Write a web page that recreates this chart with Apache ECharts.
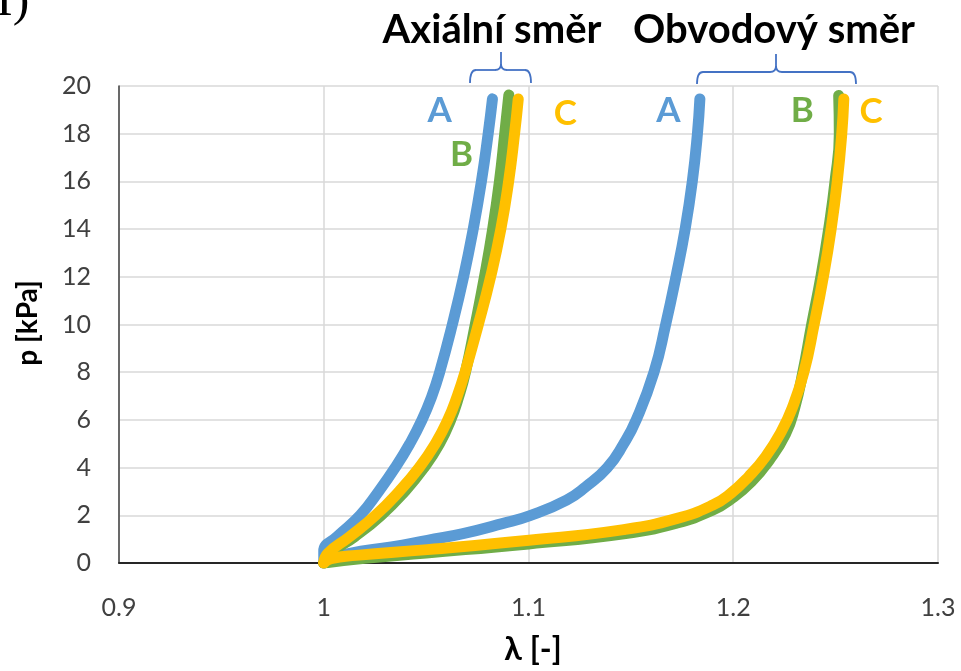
<!DOCTYPE html>
<html>
<head>
<meta charset="utf-8">
<script src="https://cdn.jsdelivr.net/npm/echarts@6/dist/echarts.min.js"></script>
<style>
  html, body { margin: 0; padding: 0; background: #fff; }
  #chart { width: 961px; height: 671px; }
</style>
</head>
<body>
<div id="chart"></div>
<script>
// Stretch λ [-] versus pressure p [kPa]; axial and circumferential direction, samples A, B, C
const axialA = [[1.000,0],[1.000,0.5],[1.0065,1.1],[1.0178,2],[1.0268,3],[1.0349,4],[1.0420,5],[1.0480,6],[1.0528,7],[1.0566,8],[1.0628,10],[1.0683,12],[1.0730,14],[1.0770,16],[1.0803,18],[1.0824,19.46]];
const axialB = [[1.000,0],[1.003,0.4],[1.015,1.1],[1.0280,2],[1.0395,3],[1.0490,4],[1.0565,5],[1.0620,6],[1.0660,7],[1.0692,8],[1.0740,10],[1.0785,12],[1.0825,14],[1.0858,16],[1.0884,18],[1.0904,19.62]];
const axialC = [[1.000,0],[1.002,0.4],[1.0126,1.1],[1.0253,2],[1.0368,3],[1.0466,4],[1.0545,5],[1.0606,6],[1.0652,7],[1.0690,8],[1.0755,10],[1.0815,12],[1.0865,14],[1.0903,16],[1.0932,18],[1.0950,19.46]];
const circA = [[1.000,0],[1.0122,0.39],[1.0331,0.67],[1.0506,0.95],[1.068,1.23],[1.0872,1.65],[1.1011,2],[1.1186,2.64],[1.128,3.2],[1.1385,4],[1.1465,5],[1.1526,6],[1.1613,8],[1.1670,10],[1.1720,12],[1.1765,14],[1.1800,16],[1.1825,18],[1.1837,19.46]];
const circB = [[1.000,0],[1.02,0.2],[1.05,0.42],[1.10,0.8],[1.1465,1.22],[1.1726,1.68],[1.19,2.22],[1.1995,2.72],[1.209,3.42],[1.2175,4.3],[1.2255,5.4],[1.2300,6.5],[1.2340,8],[1.2383,10],[1.2428,12],[1.2466,14],[1.2497,16],[1.2518,18],[1.2515,19.6]];
const circC = [[1.000,0],[1.0035,0.18],[1.0157,0.32],[1.0506,0.56],[1.1003,0.95],[1.1465,1.40],[1.1726,1.87],[1.19,2.43],[1.1988,2.92],[1.2075,3.62],[1.2158,4.46],[1.2234,5.5],[1.2288,6.5],[1.2345,8],[1.2395,10],[1.2440,12],[1.2478,14],[1.2508,16],[1.2530,18],[1.2540,19.46]];

// sample letters and where they sit (λ, p)
const sampleNames = ['A', 'B', 'C', 'A', 'B', 'C'];
const sampleAnchors = [[1.0566,18.95],[1.0673,17.1],[1.118,18.83],[1.1683,18.95],[1.2337,18.95],[1.2673,18.91]];
const groupTitles = ['Axiální směr', 'Obvodový směr'];
const xTicks = [0.9, 1.0, 1.1, 1.2, 1.3];
const yTicks = [0, 2, 4, 6, 8, 10, 12, 14, 16, 18, 20];

const BLUE = '#5b9bd5', GREEN = '#70ad47', ORANGE = '#ffc000';
const sampleColors = [BLUE, GREEN, ORANGE, BLUE, GREEN, ORANGE];
const FONT = 'Lato, "Open Sans", "DejaVu Sans", sans-serif';

const chart = echarts.init(document.getElementById('chart'), null, { renderer: 'canvas' });

function curve(data, color) {
  return {
    type: 'line', data: data, showSymbol: false, symbol: 'none', smooth: 0.5,
    lineStyle: { color: color, width: 11, cap: 'round', join: 'round' },
    animation: false, silent: true
  };
}

chart.setOption({
  animation: false,
  grid: { left: 119, right: 23, top: 86, bottom: 108, containLabel: false },
  xAxis: {
    type: 'value', min: xTicks[0], max: xTicks[xTicks.length - 1], interval: 0.1,
    axisLine: { show: true, onZero: false, lineStyle: { color: '#262626', width: 2 } },
    axisTick: { show: false },
    splitLine: { show: true, lineStyle: { color: '#d9d9d9', width: 1.5 } },
    axisLabel: {
      margin: 32, color: '#404040', fontSize: 25, fontFamily: FONT,
      formatter: v => { const t = xTicks.find(k => Math.abs(k - v) < 1e-6); return t === undefined ? '' : (t === 1 ? '1' : String(t)); }
    }
  },
  yAxis: {
    type: 'value', min: yTicks[0], max: yTicks[yTicks.length - 1], interval: 2,
    axisLine: { show: true, onZero: false, lineStyle: { color: '#404040', width: 1.5 } },
    axisTick: { show: false },
    splitLine: { show: true, lineStyle: { color: '#d9d9d9', width: 1.5 } },
    axisLabel: { margin: 28, color: '#404040', fontSize: 25, fontFamily: FONT }
  },
  series: [
    curve(axialA, BLUE), curve(circA, BLUE),
    curve(axialB, GREEN), curve(circB, GREEN),
    curve(axialC, ORANGE), curve(circC, ORANGE)
  ]
});

// annotations: group titles, braces, sample letters, axis titles
const gfx = [];
gfx.push({ type: 'text', x: 492, y: 30, style: { text: groupTitles[0], font: 'bold 40px ' + FONT, fill: '#000', textAlign: 'center', textVerticalAlign: 'middle' } });
gfx.push({ type: 'text', x: 774, y: 30, style: { text: groupTitles[1], font: 'bold 40px ' + FONT, fill: '#000', textAlign: 'center', textVerticalAlign: 'middle' } });

// horizontal curly brace built from straight pieces and quadratic corners
function brace(l, r, c, top, mid, bot) {
  const k = 6;
  const st = { stroke: '#4472c4', lineWidth: 1.8, fill: null };
  const seg = (x1, y1, x2, y2) => ({ type: 'line', shape: { x1, y1, x2, y2 }, style: st });
  const crv = (x1, y1, cx, cy, x2, y2) => ({ type: 'bezierCurve', shape: { x1, y1, cpx1: cx, cpy1: cy, x2, y2 }, style: st });
  return [
    crv(l, bot, l, mid, l + k, mid),
    seg(l + k, mid, c - k, mid),
    crv(c - k, mid, c, mid, c, mid - k),
    seg(c, mid - k, c, top),
    crv(c, mid - k, c, mid, c + k, mid),
    seg(c + k, mid, r - k, mid),
    crv(r - k, mid, r, mid, r, bot)
  ];
}
gfx.push(...brace(470, 531, 501, 52, 70, 83));
gfx.push(...brace(697, 856, 776, 54, 72, 84));

sampleAnchors.forEach((a, i) => {
  const p = chart.convertToPixel({ gridIndex: 0 }, a);
  gfx.push({ type: 'text', x: p[0], y: p[1], z: 10, style: { text: sampleNames[i], font: 'bold 35px ' + FONT, fill: sampleColors[i], textAlign: 'center', textVerticalAlign: 'middle' } });
});

gfx.push({ type: 'text', x: 28, y: 323, rotation: Math.PI / 2, style: { text: 'p [kPa]', font: 'bold 28px ' + FONT, fill: '#000', textAlign: 'center', textVerticalAlign: 'middle' } });
gfx.push({ type: 'text', x: 533, y: 650, style: { text: 'λ [-]', font: 'bold 32px ' + FONT, fill: '#000', textAlign: 'center', textVerticalAlign: 'middle' } });
// panel mark in the corner
gfx.push({ type: 'text', x: -4, y: 27, style: { text: 'I)', font: '50px "Liberation Serif", "DejaVu Serif", serif', fill: '#000', textAlign: 'left', textVerticalAlign: 'bottom' } });

chart.setOption({ graphic: gfx });
</script>
</body>
</html>
